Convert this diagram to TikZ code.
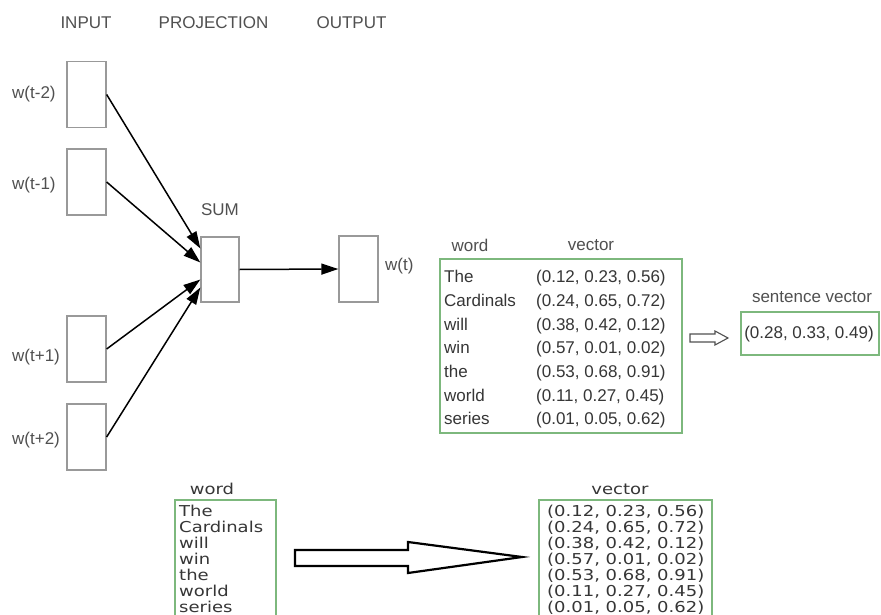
\documentclass[tikz,border=0pt]{standalone}
\usepackage{fontspec}
\setmainfont{Liberation Sans}
\newfontfamily\widefont[FakeStretch=1.2]{DejaVu Sans}
\usetikzlibrary{arrows.meta}
\definecolor{txt}{HTML}{505050}
\definecolor{tabtxt}{HTML}{363636}
\definecolor{boxgray}{HTML}{999999}
\definecolor{grn}{HTML}{7DB87D}
\begin{document}
\begin{tikzpicture}[x=1pt,y=-1pt,
  unit/.style={draw=boxgray, line width=1.3pt, minimum width=39pt, minimum height=66pt, inner sep=0pt},
  lab/.style={text=txt, font=\fontsize{17}{20}\selectfont, inner sep=0pt},
  tab/.style={text=tabtxt, font=\fontsize{17}{23.7}\selectfont, inner sep=0pt},
  wtab/.style={text=tabtxt, font=\widefont\fontsize{15}{15.7}\selectfont, inner sep=0pt},
  conn/.style={line width=1.5pt, -{Triangle[length=17pt,width=11pt]}},
  gbox/.style={draw=grn, line width=1.3pt, inner sep=0pt},
  hollow/.style={draw=txt, line width=1.1pt},
  bighollow/.style={draw=black, line width=2.2pt, line join=miter}]
\useasboundingbox (0,0) rectangle (881,615);
\fill[white] (0,0) rectangle (881,615);

% headers
\node[lab] (hin) at (86,23) {INPUT};
\node[lab] (hproj) at (213.5,23) {PROJECTION};
\node[lab] (hout) at (351.5,23) {OUTPUT};

% input units
\node[unit] (i1) at (86.5,94.5) {};
\node[unit] (i2) at (86.5,182) {};
\node[unit] (i3) at (86.5,349) {};
\node[unit] (i4) at (86.5,437) {};
\node[lab, anchor=west] (l1) at (12,94) {w(t-2)};
\node[lab, anchor=west] (l2) at (12,185) {w(t-1)};
\node[lab, anchor=west] (l3) at (12,357) {w(t+1)};
\node[lab, anchor=west] (l4) at (12,440) {w(t+2)};

% projection and output
\node[unit, minimum width=38pt, minimum height=65pt] (sum) at (220,269.5) {};
\node[lab] (sumlab) at (220,210) {SUM};
\node[unit] (out) at (358.5,269) {};
\node[lab, anchor=west] (outlab) at (385,266) {w(t)};

\draw[conn] (i1.east) -- ([yshift=21pt]sum.west);
\draw[conn] (i2.east) -- ([yshift=7pt]sum.west);
\draw[conn] (i3.east) -- ([yshift=-10pt]sum.west);
\draw[conn] (i4.east) -- ([yshift=-18pt]sum.west);
\draw[conn] (sum.east) -- (out.west);

% table 1
\node[lab] (t1word) at (470,245) {word};
\node[lab] (t1vec) at (591,245) {vector};
\node[gbox, minimum width=242pt, minimum height=174pt] (t1) at (561,346) {};
\node[tab, anchor=west] (t1rows) at (444,349) {\begin{tabular}{@{}p{92pt}@{}l@{}}
The & (0.12, 0.23, 0.56)\\
Cardinals & (0.24, 0.65, 0.72)\\
will & (0.38, 0.42, 0.12)\\
win & (0.57, 0.01, 0.02)\\
the & (0.53, 0.68, 0.91)\\
world & (0.11, 0.27, 0.45)\\
series & (0.01, 0.05, 0.62)
\end{tabular}};

% sentence vector
\node[lab] (svlab) at (812,297) {sentence vector};
\node[gbox, minimum width=138pt, minimum height=43pt] (sv) at (810,333.5) {};
\node[tab] (svtext) at (809,334) {(0.28, 0.33, 0.49)};
\draw[hollow] (690,334) -- (715,334) -- (715,331) -- (728,338) -- (715,345) -- (715,342) -- (690,342) -- cycle;

% bottom tables
\node[wtab] (bword) at (212,489) {word};
\node[gbox, minimum width=101pt, minimum height=118pt] (bw) at (225.5,559) {};
\node[wtab, anchor=west] (bwrows) at (179,561) {\begin{tabular}{@{}l@{}}
The\\ Cardinals\\ will\\ win\\ the\\ world\\ series
\end{tabular}};
\node[wtab] (bvec) at (620,489) {vector};
\node[gbox, minimum width=173pt, minimum height=118pt] (bv) at (625.5,559) {};
\node[wtab, anchor=west] (bvrows) at (547,561) {\begin{tabular}{@{}l@{}}
(0.12, 0.23, 0.56)\\
(0.24, 0.65, 0.72)\\
(0.38, 0.42, 0.12)\\
(0.57, 0.01, 0.02)\\
(0.53, 0.68, 0.91)\\
(0.11, 0.27, 0.45)\\
(0.01, 0.05, 0.62)
\end{tabular}};
\draw[bighollow] (295,550) -- (408,550) -- (408,542) -- (522,557) -- (408,573) -- (408,566) -- (295,566) -- cycle;
\end{tikzpicture}
\end{document}
